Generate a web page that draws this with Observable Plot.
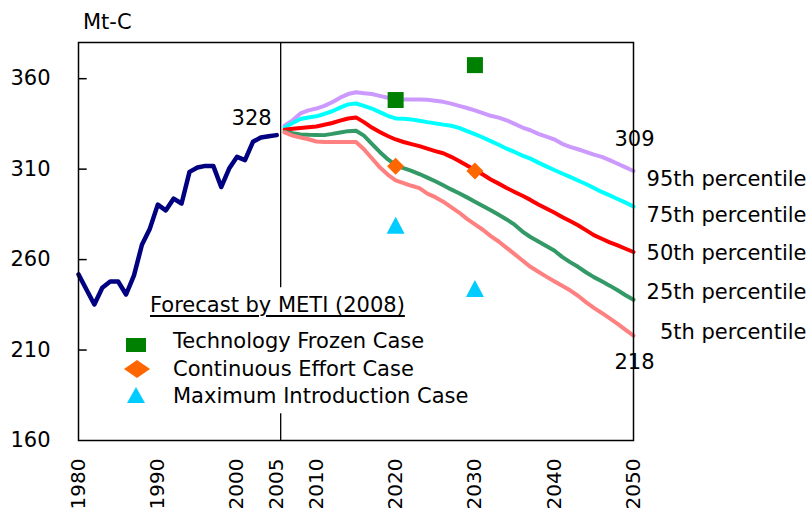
<!DOCTYPE html>
<html><head><meta charset="utf-8">
<script src="https://cdn.jsdelivr.net/npm/d3@7"></script>
<script src="https://cdn.jsdelivr.net/npm/@observablehq/plot@0.6"></script>
<style>
body{margin:0;background:#fff;}
#wrap{position:relative;width:811px;height:512px;font-family:"DejaVu Sans",sans-serif;color:#000;overflow:hidden;}
#unit{position:absolute;left:83px;top:10px;font-size:21px;line-height:24px;}
.lg{position:absolute;font-size:21px;line-height:24px;white-space:nowrap;}
.sym{position:absolute;}
</style></head><body><div id="wrap"></div>
<script>
// ---- data ----
const histYears = [1980,1981,1982,1983,1984,1985,1986,1987,1988,1989,1990,1991,1992,1993,1994,1995,1996,1997,1998,1999,2000,2001,2002,2003,2004,2005];
const histValues = [251.8,243.5,235.2,244.4,247.9,247.9,240.7,251.3,268.2,277.1,290.4,287.2,293.7,291.0,308.5,310.9,311.8,311.8,300.1,310.3,316.8,315.0,325.1,327.5,328.2,328.8];

const fcYears = d3.range(2006, 2051);
const p95 = [334,337,340.8,342.5,343.5,345,347,349.5,351.5,352.5,352,351.5,350.5,349.5,348.5,348.5,348.5,348.5,348.3,347.8,347.2,346.2,345,343.8,342.5,341,339.5,338.5,337,335,333,331.5,329.5,328,326.5,324,322.3,321,319.5,318,316.8,315,313,311,309];
const p75 = [333,335.5,337.7,338.5,339.2,340.5,342,344,345.8,346.3,345,343.5,341.5,339.5,338,337.8,337.5,336.8,336,335.3,334.6,334,332.8,331,329.3,327.5,325.5,323.5,321.3,319.5,317.5,315.8,313.6,311.5,309.5,307.6,305.7,303.7,301.8,299.6,297.4,295.5,293.5,291.5,289.3];
const p50 = [331.8,332.3,332.8,333.2,333.6,334.5,335.5,336.8,338,338.6,336,333,330.5,328.3,326.4,325,323.8,322.7,321.3,320,318.8,316.8,314.5,312,309.5,307,304.3,302,299.6,297.4,295.3,293,290.5,288.2,286,283.6,281.3,279,276.3,273.5,271.5,269.5,267.8,266,264.2];
const p25 = [330.6,329.8,329.2,329,328.9,328.8,329.5,330.3,331,331.2,328.5,324,319.5,315.5,312.2,310.5,309,307.3,305.3,303.3,301.1,298.8,296.7,294.4,292,289.6,287.3,284.8,282.2,279.3,275.5,272.5,270,267.5,265,261.5,258.6,256,253,250.3,248,245.6,243,240.3,237.8];
const p05 = [330.3,328.5,327.5,326.5,325.3,325,325,325,325,325,321,316,311,307,303.8,302.3,300.8,299.5,296.5,294.5,292,289,286,282.5,279.5,276.5,273,270,266.5,263,259.5,256,253.3,250.6,248,245.5,243,240,236.5,233.3,230.5,227.5,224.5,221.2,218];

const caseYears = [2020, 2030];
const frozenCase = [348.2, 367.5];
const effortCase = [311.6, 309.0];
const maxIntroCase = [279.0, 244.0];

const pctNames = ["95th percentile","75th percentile","50th percentile","25th percentile","5th percentile"];
const pctLabelY = [304.4, 284.5, 263.4, 241.8, 219.7];
const pctColors = ["#CC99FF","#00FFFF","#FF0000","#339966","#FF8080"];

const xDomain = [1980, 2050];
const yDomain = [160, 380];
const yTicks = [160, 210, 260, 310, 360];
const xTicks = [1980, 1990, 2000, 2005, 2010, 2020, 2030, 2040, 2050];
const dividerYear = 2005.5;
const dividerSegments = [[380, 244.5], [174.8, 160]];

const legendTitle = "Forecast by METI (2008)";
const legendItems = ["Technology Frozen Case", "Continuous Effort Case", "Maximum Introduction Case"];

// ---- build ----
const hist = histYears.map((x, i) => ({x, y: histValues[i]}));
const series = [p95, p75, p50, p25, p05].map(arr => fcYears.map((x, i) => ({x, y: arr[i]})));
const toPts = arr => caseYears.map((x, i) => ({x, y: arr[i]}));

const squareSym = {draw(c, s){ const r = Math.sqrt(s/Math.PI); c.rect(-r, -r, 2*r, 2*r); }};
const diamondSym = {draw(c, s){ const r = Math.sqrt(s/Math.PI); c.moveTo(0,-r); c.lineTo(r,0); c.lineTo(0,r); c.lineTo(-r,0); c.closePath(); }};
const triSym = {draw(c, s){ const r = Math.sqrt(s/Math.PI); c.moveTo(0,-r); c.lineTo(r*1.06,r); c.lineTo(-r*1.06,r); c.closePath(); }};

const plot = Plot.plot({
  width: 811, height: 512,
  marginLeft: 78, marginRight: 178, marginTop: 42, marginBottom: 72,
  style: {fontFamily: "DejaVu Sans, sans-serif", fontSize: "21px", color: "#000", background: "#fff", overflow: "visible"},
  x: {domain: xDomain},
  y: {domain: yDomain},
  marks: [
    Plot.axisY({ticks: yTicks, tickSize: 0, tickPadding: 28, label: null, fontSize: 21}),
    Plot.ruleY(yTicks.slice(1), {x1: xDomain[0], x2: xDomain[0] + 1.1, stroke: "#000", strokeWidth: 1.5}),
    Plot.axisX({ticks: xTicks, tickSize: 0, tickPadding: 18, tickRotate: -90, tickFormat: d => String(d), label: null, fontSize: 20}),
    Plot.ruleX(dividerSegments.map(([a, b]) => ({x: dividerYear, y1: a, y2: b})), {x: "x", y1: "y1", y2: "y2", stroke: "#000", strokeWidth: 1.3}),
    Plot.line(hist, {x: "x", y: "y", stroke: "#000080", strokeWidth: 4.5, strokeLinejoin: "round", strokeLinecap: "round"}),
    ...series.map((d, i) => Plot.line(d, {x: "x", y: "y", stroke: pctColors[i], strokeWidth: 4, strokeLinejoin: "round", strokeLinecap: "round"})),
    Plot.dot(toPts(frozenCase), {x: "x", y: "y", symbol: squareSym, r: 8, fill: "#008000", stroke: null}),
    Plot.dot(toPts(effortCase), {x: "x", y: "y", symbol: diamondSym, r: 8.5, fill: "#FF6600", stroke: null}),
    Plot.dot(toPts(maxIntroCase), {x: "x", y: "y", symbol: triSym, r: 8.5, fill: "#00CCFF", stroke: null}),
    Plot.text([{x: histYears[histYears.length-1], y: histValues[histValues.length-1]}], {x: "x", y: "y", text: d => String(Math.round(d.y - 0.5)), textAnchor: "end", dx: -5, dy: -17}),
    Plot.text([{x: 2050, y: p95[p95.length-1]}], {x: "x", y: "y", text: d => String(Math.round(d.y)), dx: 1, dy: -32}),
    Plot.text([{x: 2050, y: p05[p05.length-1]}], {x: "x", y: "y", text: d => String(Math.round(d.y)), dx: 1, dy: 27}),
    Plot.text(pctNames.map((t, i) => ({t, y: pctLabelY[i]})), {x: () => 2050, y: "y", text: "t", textAnchor: "end", dx: 173}),
    Plot.frame({stroke: "#000", strokeWidth: 1.5})
  ]
});

const wrap = document.getElementById("wrap");
wrap.appendChild(plot);
plot.style.position = "absolute"; plot.style.left = "0"; plot.style.top = "0";

const unit = document.createElement("div");
unit.id = "unit"; unit.textContent = "Mt-C";
wrap.appendChild(unit);

const title = document.createElement("div");
title.className = "lg";
title.style.left = "150px"; title.style.top = "293px";
title.style.textDecoration = "underline"; title.style.textDecorationThickness = "2px"; title.style.textUnderlineOffset = "3px";
title.textContent = legendTitle;
wrap.appendChild(title);

const itemTops = [329, 357, 384];
const symSvgs = [
  '<svg width="22" height="16"><rect x="1" y="1" width="20" height="14" fill="#008000"/></svg>',
  '<svg width="28" height="20"><path d="M14,1L27,10L14,19L1,10Z" fill="#FF6600"/></svg>',
  '<svg width="20" height="18"><path d="M10,1L19,17L1,17Z" fill="#00CCFF"/></svg>'
];
const symPos = [[125, 337], [123, 359], [126, 386]];
legendItems.forEach((t, i) => {
  const d = document.createElement("div");
  d.className = "lg"; d.style.left = "173px"; d.style.top = itemTops[i] + "px";
  d.textContent = t; wrap.appendChild(d);
  const s = document.createElement("div");
  s.className = "sym"; s.style.left = symPos[i][0] + "px"; s.style.top = symPos[i][1] + "px";
  s.innerHTML = symSvgs[i]; wrap.appendChild(s);
});
</script>
</body></html>
